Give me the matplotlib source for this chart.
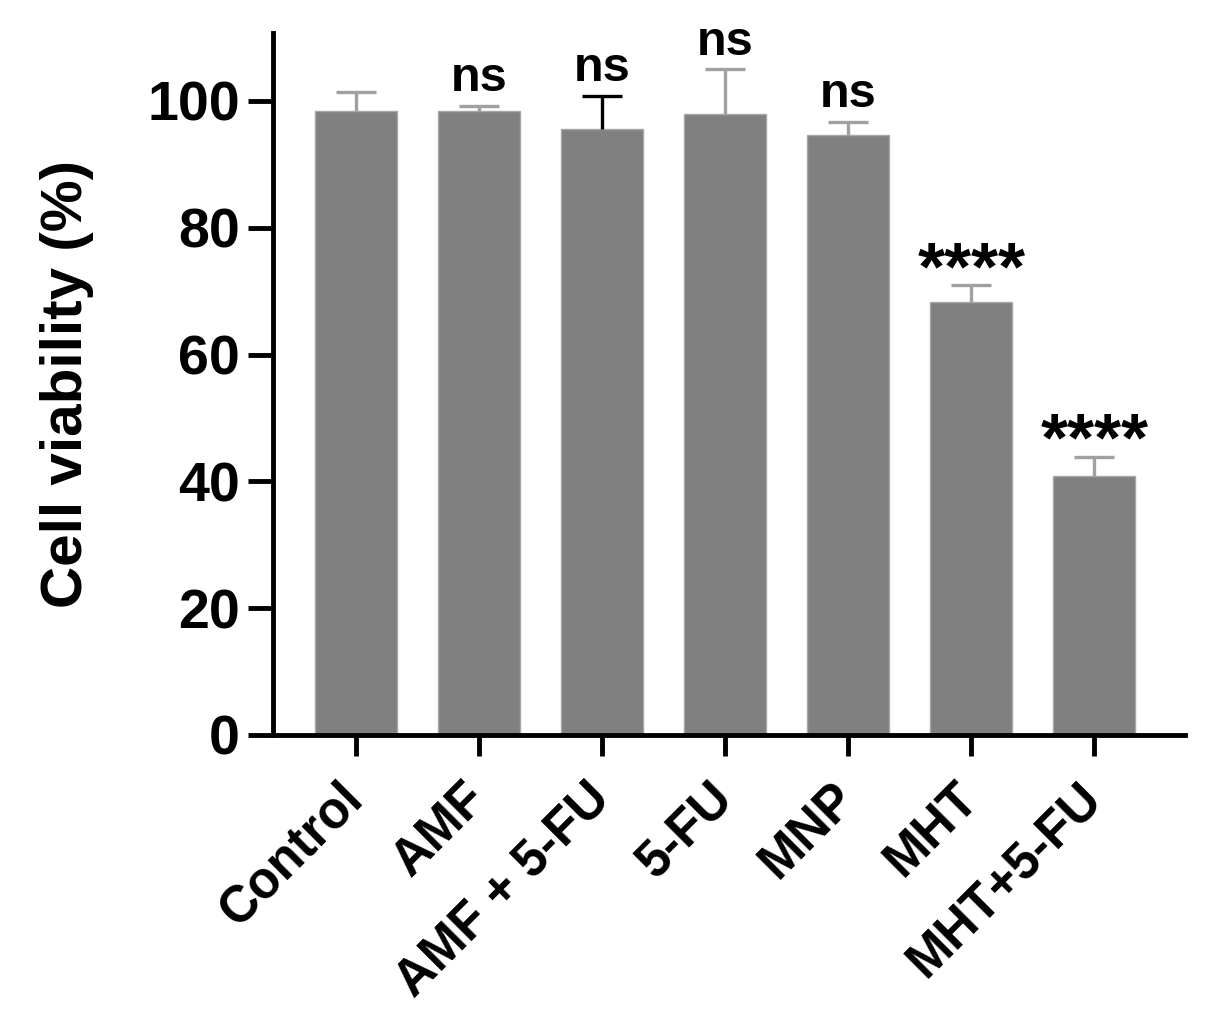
import matplotlib
matplotlib.use("Agg")
import matplotlib.pyplot as plt
import numpy as np

categories = ["Control", "AMF", "AMF + 5-FU", "5-FU", "MNP", "MHT", "MHT+5-FU"]
means = [98.4, 98.4, 95.6, 98.0, 94.6, 68.3, 40.8]
errors = [3.0, 0.8, 5.2, 7.0, 2.1, 2.7, 3.1]
signif = ["", "ns", "ns", "ns", "ns", "****", "****"]
err_colors = ["#a0a0a0", "#a0a0a0", "#000000", "#a0a0a0", "#a0a0a0", "#a0a0a0", "#a0a0a0"]
yticks = [0, 20, 40, 60, 80, 100]

plt.rcParams['font.family'] = ['Liberation Sans', 'DejaVu Sans']
plt.rcParams['font.weight'] = 'bold'

fig = plt.figure(figsize=(12.22, 10.16), dpi=100)
ax = fig.add_axes([0.2234, 0.2766, 0.970 - 0.2234, 0.9675 - 0.2766])

x = np.arange(len(categories))
ax.bar(x, means, width=0.667, color="#808080", edgecolor="#a8a8a8", linewidth=1.0, zorder=2)
for xi, m, e, c in zip(x, means, errors, err_colors):
    _, caps, _ = ax.errorbar([xi], [m], yerr=[[0], [e]], fmt='none', ecolor=c, elinewidth=2.4,
                             capsize=14.5, capthick=2.4, zorder=3)
    caps[0].set_visible(False)

for xi, m, e, s in zip(x, means, errors, signif):
    if not s:
        continue
    if s.startswith("*"):
        ax.annotate(s, (xi, m + e), xytext=(0, -3), textcoords='offset points',
                    ha='center', va='baseline', fontsize=50, fontweight='bold')
    else:
        ax.annotate(s, (xi, m + e), xytext=(0, 10.5), textcoords='offset points',
                    ha='center', va='baseline', fontsize=35, fontweight='bold')

ax.set_xlim(-0.675, 6.74)
ax.set_ylim(0, 110.7)
ax.set_yticks(yticks)
ax.set_yticklabels([str(v) for v in yticks], fontsize=40, fontweight='bold')
ax.set_xticks(x)
ax.set_xticklabels(categories, rotation=45, ha='right', va='center', rotation_mode='anchor',
                   fontsize=36.5, fontweight='bold')

for side in ['top', 'right']:
    ax.spines[side].set_visible(False)
for side in ['left', 'bottom']:
    ax.spines[side].set_linewidth(3.5)
ax.tick_params(axis='y', length=18, width=3.5, pad=6)
ax.tick_params(axis='x', length=15, width=3.5, pad=25)
ax.set_ylabel("Cell viability (%)", fontsize=42, fontweight='bold', labelpad=38)

fig.savefig("out.png", dpi=100)
